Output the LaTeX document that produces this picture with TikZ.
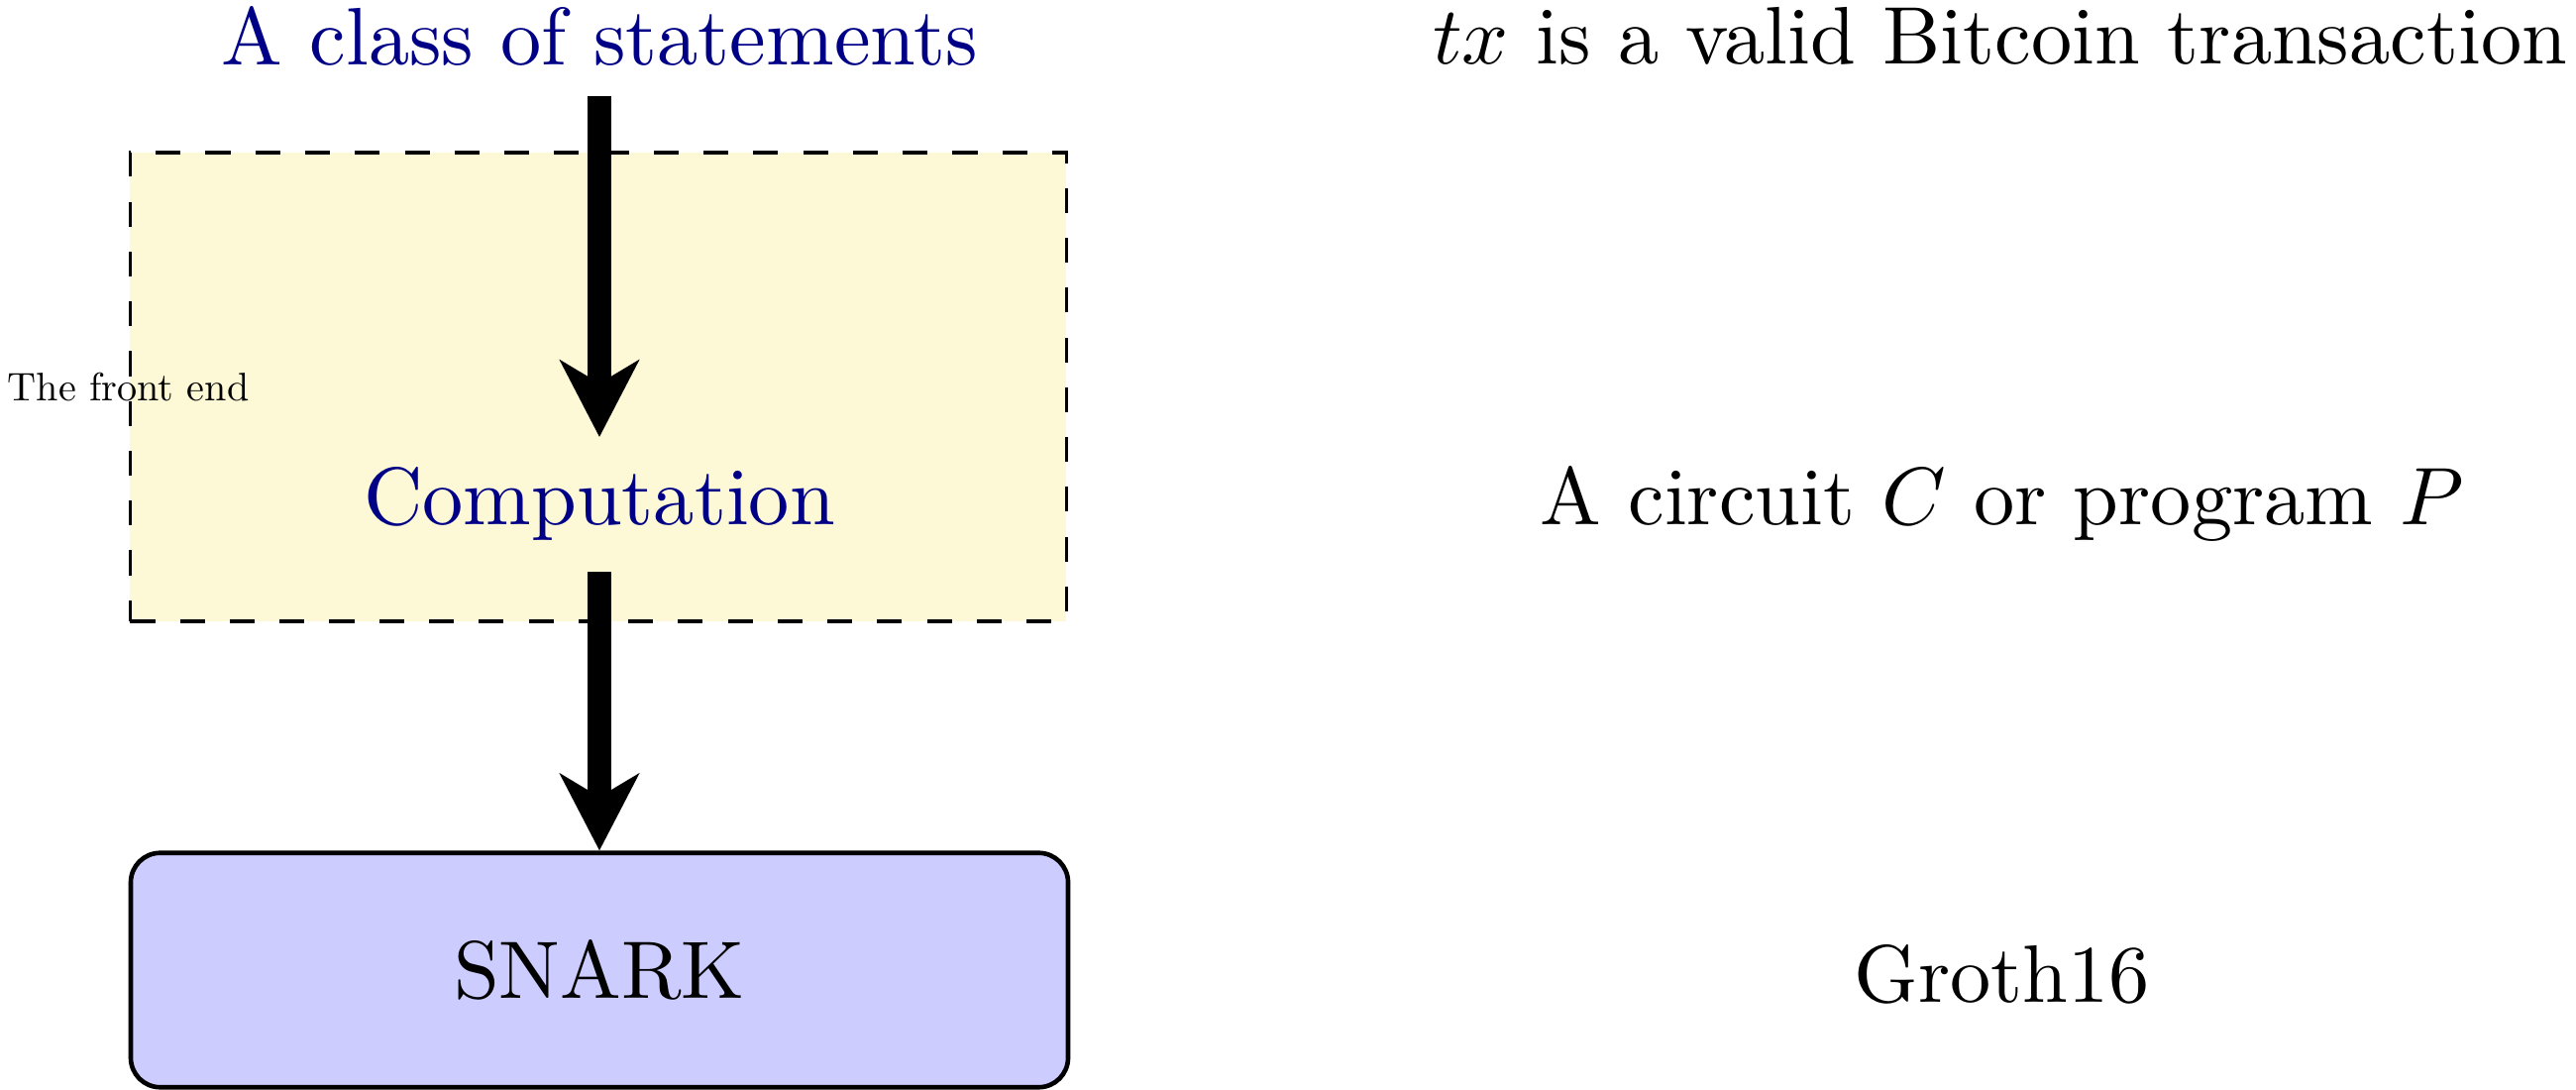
\documentclass[tikz,border=0pt]{standalone}
\usepackage{amsmath, amssymb}
\usepackage{graphicx}
\usepackage{tikz}
\usetikzlibrary{arrows.meta}
\usetikzlibrary{positioning}
\definecolor{frontyellow}{RGB}{253,249,214}
\definecolor{statblue}{RGB}{0,0,135}

\begin{document}
\begin{tikzpicture}[
          bigtext/.style = {scale=2.13, inner sep=3.55pt},
          fatarrow/.style = {line width=6.2pt, -{Stealth[length=20pt, width=20.5pt, inset=6pt]}}]
          \useasboundingbox (0,0) rectangle (23.636,10);
          \node[draw, fill=frontyellow, line width=0.9pt, dash pattern=on 6.5pt off 6.5pt,
                minimum width=8.59cm, minimum height=4.3cm] (frontend) at (5.49,6.45) {};
          \node[scale=1.04, inner sep=2pt] (frontlabel) at (frontend.west) {The front end};
          \node[draw, fill=blue!20, line width=1.2pt, rounded corners=0.27cm,
                minimum width=8.6cm, minimum height=2.15cm] (snark) at (5.5,1.1) {\scalebox{2.13}{SNARK}};
          \node[bigtext, text=statblue] (statements) at (5.5,9.67) {A class of statements};
          \node[bigtext, text=statblue] (computation) at (5.5,5.373) {Computation};
          \node[bigtext] (txvalid) at (18.35,9.67) {$tx$ is a valid Bitcoin transaction};
          \node[bigtext] (circuit) at (18.37,5.373) {A circuit $C$ or program $P$};
          \node[bigtext] (groth) at (18.37,1.06) {Groth16};
          \draw[fatarrow] (statements.south) -- (computation.north);
          \draw[fatarrow] (computation.south) -- (snark.north);
        \end{tikzpicture}
\end{document}
